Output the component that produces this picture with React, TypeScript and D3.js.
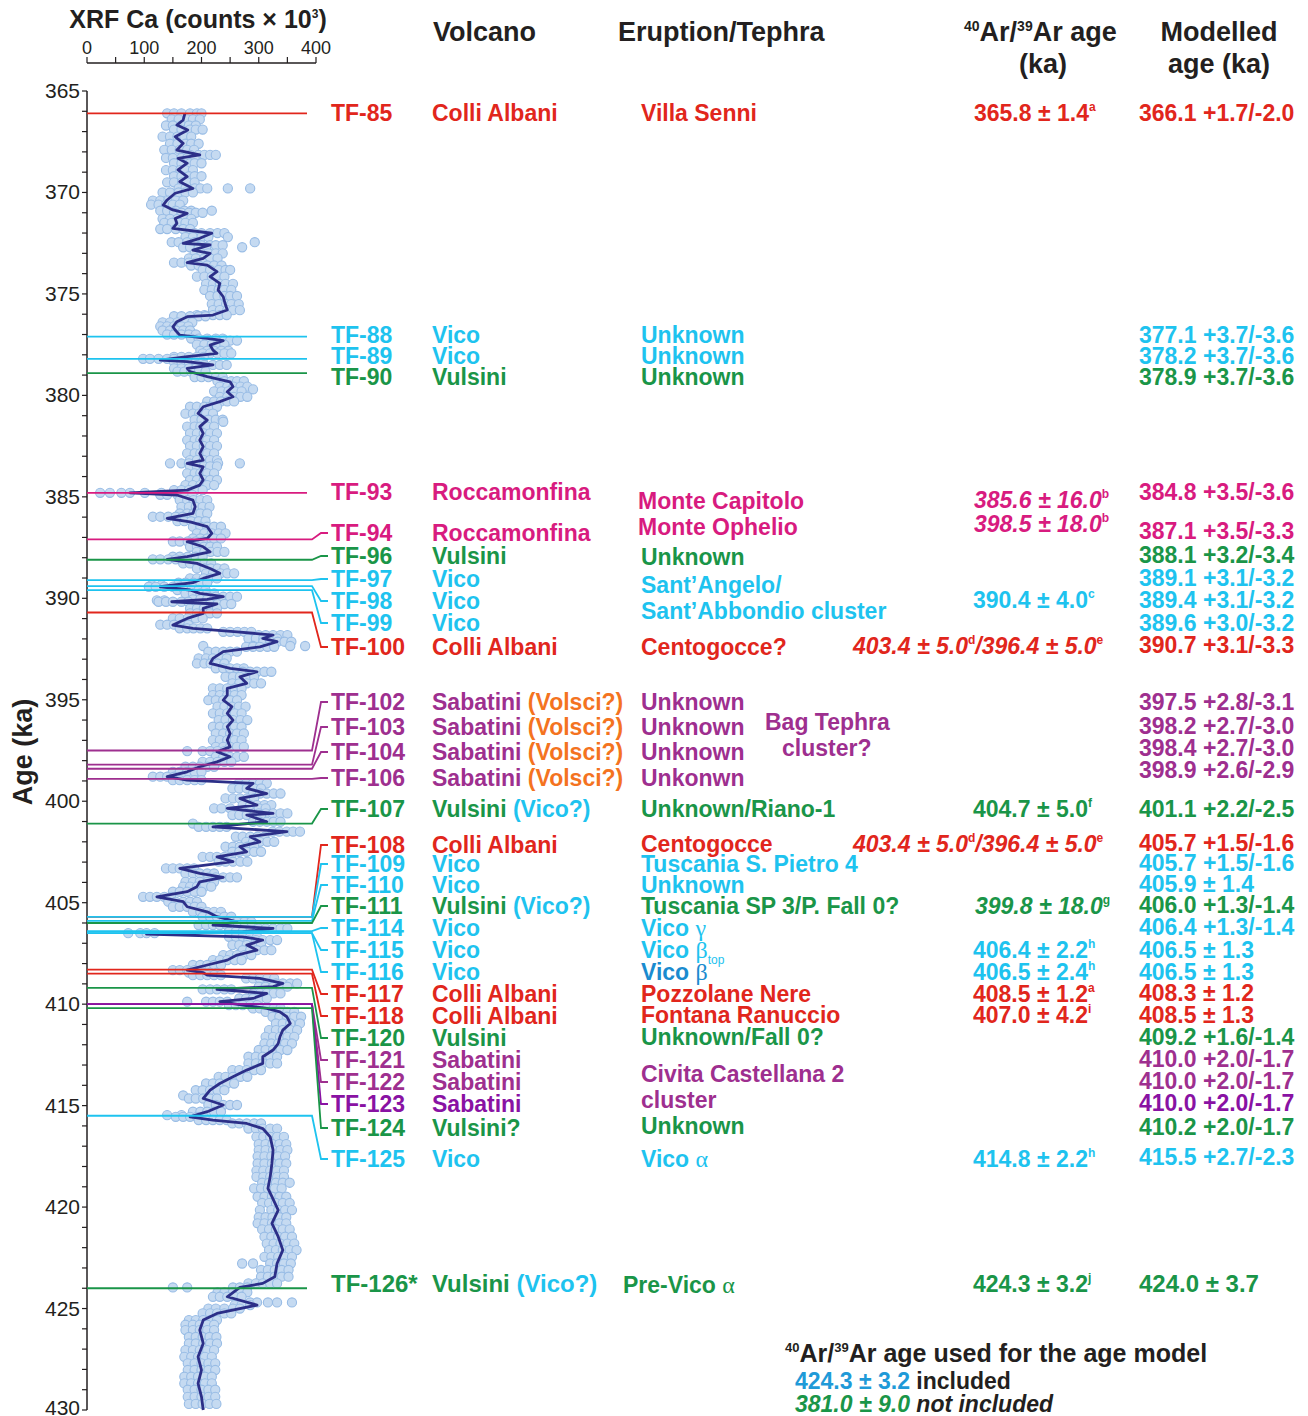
import React from 'react';
import * as d3 from 'd3';

// ---------------- DATA ----------------
// XRF Ca smoothed curve: [age (ka), counts x10^3]
const XRF_LINE: [number, number][] = [
  [366.10,171],[366.43,168],[366.68,157],[366.92,176],[367.25,154],[367.58,168],[367.91,157],[368.15,197],[368.32,159],[368.56,175],
  [368.89,159],[369.22,175],[369.47,162],[369.80,185],[370.04,154],[370.37,140],[370.62,133],[370.86,150],[371.03,175],[371.28,154],
  [371.52,157],[371.77,150],[372.01,218],[372.26,197],[372.51,168],[372.59,215],[372.84,185],[373.00,215],[373.25,203],[373.46,175],
  [373.58,210],[373.90,227],[374.15,215],[374.48,232],[374.81,229],[375.14,238],[375.46,241],[375.79,245],[376.04,220],[376.12,175],
  [376.37,157],[376.62,150],[376.78,154],[377.03,162],[377.19,210],[377.30,238],[377.52,215],[377.77,220],[377.93,227],[378.09,175],
  [378.26,128],[378.34,175],[378.50,220],[378.67,175],[378.83,180],[379.08,210],[379.33,250],[379.57,255],[379.82,245],[380.07,255],
  [380.31,232],[380.56,203],[380.89,194],[381.22,210],[381.54,197],[381.87,203],[382.20,197],[382.53,203],[382.86,197],[383.19,203],
  [383.35,175],[383.52,203],[383.84,197],[384.17,203],[384.42,197],[384.67,175],[384.80,75],[384.91,157],[385.16,185],[385.49,189],
  [385.82,185],[386.06,140],[386.23,180],[386.47,210],[386.80,218],[387.05,210],[387.21,175],[387.46,203],[387.71,215],[387.95,175],
  [388.08,140],[388.28,192],[388.53,215],[388.77,232],[389.02,203],[389.23,185],[389.43,128],[389.59,180],[389.76,197],[389.92,238],
  [390.05,210],[390.17,148],[390.28,227],[390.50,203],[390.74,203],[390.99,175],[391.32,150],[391.48,185],[391.65,262],[391.81,325],
  [391.98,307],[392.14,332],[392.39,302],[392.63,238],[392.96,220],[393.21,215],[393.45,250],[393.62,297],[393.87,267],[394.19,279],
  [394.44,245],[394.77,245],[395.02,238],[395.34,253],[395.67,245],[396.00,255],[396.33,245],[396.66,250],[396.99,245],[397.32,250],
  [397.56,227],[397.81,250],[398.06,227],[398.30,197],[398.55,175],[398.79,140],[398.96,175],[399.12,290],[399.37,279],[399.62,314],
  [399.86,267],[400.19,297],[400.35,245],[400.60,325],[400.68,279],[401.01,314],[401.26,220],[401.50,349],[401.75,285],[402.00,302],
  [402.24,267],[402.49,279],[402.74,227],[402.98,255],[403.31,162],[403.56,197],[403.75,238],[403.97,197],[404.21,192],[404.46,175],
  [404.71,122],[404.95,168],[405.20,175],[405.45,210],[405.69,227],[405.94,262],[406.10,220],[406.27,325],[406.43,272],[406.55,104],
  [406.68,272],[406.84,307],[407.09,279],[407.34,297],[407.58,262],[407.83,245],[408.07,210],[408.32,175],[408.45,203],[408.57,210],
  [408.73,302],[408.98,342],[409.14,325],[409.27,227],[409.47,314],[409.72,290],[409.88,232],[410.05,272],[410.21,314],[410.38,337],
  [410.62,349],[410.95,355],[411.28,342],[411.61,337],[411.94,334],[412.26,325],[412.59,307],[412.92,307],[413.25,279],[413.58,255],
  [413.91,232],[414.24,215],[414.65,203],[414.97,238],[415.30,210],[415.55,180],[415.71,220],[415.88,279],[416.13,307],[416.54,320],
  [417.19,325],[417.85,323],[418.51,320],[419.08,316],[419.49,323],[420.15,334],[420.80,323],[421.46,334],[422.12,342],[422.78,332],
  [423.43,328],[423.76,307],[423.96,267],[424.42,245],[424.83,297],[425.24,227],[425.57,203],[426.06,197],[426.72,203],[427.38,194],
  [428.03,200],[428.69,194],[429.35,200],[430.00,203],
];

// XRF Ca raw measurements: [age (ka), ...counts x10^3 at that depth]
const XRF_POINTS: number[][] = [
  [366.1,140,152,165,180,192,200],[366.4,148,160,175,185,197],[366.7,138,150,165,178,190],[366.9,152,165,180,190,202],
  [367.25,132,145,158,170,182],[367.6,145,158,172,182,195],[367.9,135,148,162,175,187],[368.15,168,180,195,205,215,225],
  [368.3,138,150,165,175,188],[368.56,152,165,180,188,200],[368.9,138,150,163,172,185],[369.2,152,165,178,188,200],
  [369.5,140,152,166,175,188],[369.8,160,172,188,198,210,246,285],[370.0,132,145,160,172,185],[370.4,115,128,142,155,168],
  [370.6,112,125,138,150,162],[370.9,128,140,155,170,182,218],[371.0,152,165,178,190,202],[371.3,132,145,158,170,182],
  [371.5,135,148,162,172,185],[371.8,128,140,155,168,180],[372.0,188,200,215,228,240],[372.2,172,185,200,212,246],
  [372.45,148,160,175,188,293],[372.6,188,200,215,225,237],[372.7,168,180,195,208,271],[373.0,188,200,212,225,237],
  [373.25,178,190,205,215,228],[373.46,152,165,178,190,202],[373.6,182,195,210,222,235],[373.82,202,215,230,242,250],
  [374.15,192,205,218,228,240],[374.5,208,220,232,242,255],[374.8,205,218,230,240,252],[375.1,215,228,240,250,262],
  [375.5,218,230,243,252,265],[375.8,220,232,245,255,267],[376.04,192,205,220,232,244],[376.1,152,165,180,195,207],
  [376.4,132,145,158,172,184],[376.6,128,140,152,165,177],[376.8,132,145,156,168,180],[377.0,140,152,165,178,190],
  [377.2,182,195,210,225,237],[377.3,212,225,240,250,262],[377.5,192,205,218,228,240],[377.8,198,210,222,235,247],
  [377.93,202,215,228,240,252],[378.1,152,165,178,192,204],[378.2,98,110,125,140,152],[378.35,152,165,178,190,202],
  [378.5,192,205,220,232,244],[378.67,152,165,178,190,202],[378.83,158,170,182,195,207],[379.1,188,200,212,225,237],
  [379.3,228,240,252,262,274],[379.57,232,245,256,268,280],[379.7,290],[379.8,222,235,247,258,270],
  [380.07,232,245,256,268,280],[380.3,210,222,234,245,257],[380.56,180,192,205,215,227],[380.9,172,185,196,208,220],
  [381.2,188,200,212,225,237],[381.3,238],[381.54,175,188,198,210,222],[381.87,180,192,204,215,227],
  [382.2,175,188,198,210,222],[382.5,180,192,204,215,227],[382.86,175,188,198,210,222],[383.19,180,192,204,215,227],
  [383.35,145,165,178,229,267],[383.5,180,192,204,215,227],[383.84,175,188,198,210,222],[384.17,180,192,204,215,227],
  [384.42,172,185,198,210,222],[384.67,152,165,178,190,202],[384.8,23,40,60,75,101,130],[384.9,128,140,158,172,184],
  [385.16,162,175,186,198,210],[385.49,165,178,190,202,214],[385.82,162,175,186,198,210],[385.98,115,128,142,155,167],
  [386.2,158,170,182,195,207],[386.47,185,198,210,222,234],[386.8,192,205,218,230,242],[387.05,185,198,210,222,234],
  [387.2,150,162,176,190,202],[387.46,180,192,204,215,227],[387.71,192,205,216,228,240],[387.95,150,162,176,190,202],
  [388.08,115,128,142,155,167],[388.28,168,180,193,205,217],[388.53,192,205,216,228,240],[388.77,208,220,233,245,257],
  [389.02,180,192,204,215,227],[389.23,160,172,186,198,210],[389.35,113,130],[389.43,108,120,135,150,162],
  [389.59,158,170,182,195,207],[389.76,172,185,198,210,222],[389.92,212,225,238,250,262],[390.05,185,198,210,222,234],
  [390.1,122,135],[390.17,125,138,150,165,177],[390.28,202,215,228,240,252],[390.5,180,192,204,215,227],
  [390.74,180,192,204,215,227],[390.99,150,162,176,190,202],[391.3,128,140,152,165,177],[391.48,162,175,186,198,210],
  [391.65,238,250,263,275,287],[391.81,300,312,325,338,350],[391.98,282,295,308,320,332],[392.14,308,320,333,345,357],
  [392.35,203,290,355,381],[392.39,278,290,302,315,327],[392.63,212,225,238,250,262],[392.96,195,208,220,232,244],
  [393.21,192,205,216,228,240],[393.45,225,238,250,262,274],[393.62,272,285,297,310,322],[393.87,242,255,267,280,292],
  [394.19,254,266,279,292,304],[394.44,220,232,245,258,270],[394.77,220,232,245,258,270],[395.02,212,225,238,250,262],
  [395.34,228,240,253,265,277],[395.67,220,232,245,258,270],[396.0,230,242,255,268,280],[396.33,220,232,245,258,270],
  [396.66,225,238,250,262,274],[396.99,220,232,245,258,270],[397.32,225,238,250,262,274],[397.53,175,202,215,228,240],
  [397.81,225,238,250,262,274],[398.06,202,215,228,240,252],[398.3,172,185,197,210,222],[398.55,150,162,175,188,200],
  [398.79,115,128,140,152,164],[398.96,150,162,175,188,200],[399.12,265,278,290,302,314],[399.37,254,266,279,292,304],
  [399.62,290,302,314,326,338],[399.86,242,255,267,280,292],[400.19,272,285,297,310,322],[400.35,222,235,250,300,312],
  [400.6,300,312,325,338,350],[400.68,254,266,279,292,304],[401.01,290,302,314,326,338],[401.1,185],
  [401.26,195,208,220,232,244],[401.5,324,336,349,360,372],[401.75,260,272,285,298,310],[402.0,278,290,302,315,327],
  [402.24,242,255,267,280,292],[402.49,254,266,279,292,304],[402.74,202,215,227,240,252],[402.98,230,242,255,268,280],
  [403.31,138,150,162,175,187],[403.56,172,185,197,210,222],[403.75,212,225,238,250,262],[403.97,172,185,197,210,222],
  [404.21,168,180,192,205,217],[404.46,150,162,175,188,200],[404.71,98,110,122,135,147],[404.95,142,155,168,180,192],
  [405.2,150,162,175,188,200],[405.45,185,198,210,222,234],[405.69,202,215,227,240,252],[405.94,238,250,262,275,287],
  [406.1,195,208,220,232,244],[406.27,300,312,325,338,350],[406.43,248,260,272,285,297],[406.5,72,93,104,118],
  [406.68,248,260,272,285,297],[406.84,282,295,307,320,332],[407.09,254,266,279,292,304],[407.34,272,285,297,310,322],
  [407.58,238,250,262,275,287],[407.83,220,232,245,258,270],[408.07,185,198,210,222,234],[408.32,150,162,175,188,200],
  [408.45,178,190,203,215,227],[408.57,185,198,210,222,234],[408.73,278,290,302,315,327],[408.98,318,330,342,355,367],
  [409.14,300,312,325,338,350],[409.27,202,215,227,240,252],[409.47,290,302,314,326,338],[409.72,266,278,290,302,314],
  [409.88,175,208,220,232,245],[410.05,248,260,272,285,297],[410.21,290,302,314,326,338],[410.38,312,325,337,350,362],
  [410.62,324,336,349,362,374],[410.95,330,342,355,372],[411.28,318,330,342,355,367],[411.61,312,325,337,350,362],
  [411.94,310,322,334,346,358],[412.26,300,312,325,338,350],[412.59,282,295,307,320,332],[412.92,282,295,307,320,332],
  [413.25,254,266,279,292,304],[413.58,230,242,255,268,280],[413.91,208,220,232,245,257],[414.24,190,202,215,228,240],
  [414.5,168],[414.65,178,190,203,215,227],[414.97,212,225,238,250,262],[415.3,185,198,210,222,234],
  [415.47,140,165],[415.55,155,168,180,192,204],[415.71,195,208,220,232,244],[415.88,254,266,279,292,304],
  [416.13,282,295,307,320,332],[416.54,296,308,320,332,344],[416.9,300,312,324,336,348],[417.19,300,312,325,338,350],
  [417.5,298,310,322,334,346],[417.85,298,310,323,336,348],[418.2,296,308,320,332,344],[418.51,296,308,320,332,344],
  [418.8,306,318,330,342,354],[419.08,292,304,316,328,340],[419.49,298,310,323,336,348],[419.8,306,318,330,342,354],
  [420.15,302,322,334,346,358],[420.5,300,312,324,336,348],[420.8,298,310,323,336,348],[421.1,306,318,330,342,354],
  [421.46,310,322,334,346,358],[421.8,314,326,338,350,362],[422.12,318,330,342,354,366],[422.45,310,322,334,346,358],
  [422.78,271,290,320,332,344,356],[423.1,304,316,328,340,352],[423.43,304,316,328,340,352],[423.76,282,295,307,320,332],
  [423.96,150,175,255,267,280],[424.2,228,240,255,268,280],[424.42,220,232,245,258,270],[424.7,285,297,316,332,358],
  [424.83,258,270,285],[425.0,212,225,240,255,267],[425.24,202,215,227,240,252],[425.57,178,190,203,215,227],
  [425.8,172,185,197,210,222],[426.06,172,185,197,210,222],[426.4,178,190,202,214,226],[426.72,178,190,203,215,227],
  [427.05,172,185,197,210,222],[427.38,170,182,194,206,218],[427.7,176,188,200,212,224],[428.03,176,188,200,212,224],
  [428.36,170,182,194,206,218],[428.69,170,182,194,206,218],[429.0,176,188,200,212,224],[429.35,176,188,200,212,224],
  [429.7,178,190,202,214,226],
];

const X_TICKS = [0, 100, 200, 300, 400];
const Y_TICKS = [365, 370, 375, 380, 385, 390, 395, 400, 405, 410, 415, 420, 425, 430];

// Tephra table
const TEPHRA = ['TF-85','TF-88','TF-89','TF-90','TF-93','TF-94','TF-96','TF-97','TF-98','TF-99','TF-100','TF-102','TF-103','TF-104','TF-106','TF-107','TF-108','TF-109','TF-110','TF-111','TF-114','TF-115','TF-116','TF-117','TF-118','TF-120','TF-121','TF-122','TF-123','TF-124','TF-125','TF-126*'];
const VOLCANO = ['Colli Albani','Vico','Vico','Vulsini','Roccamonfina','Roccamonfina','Vulsini','Vico','Vico','Vico','Colli Albani','Sabatini','Sabatini','Sabatini','Sabatini','Vulsini','Colli Albani','Vico','Vico','Vulsini','Vico','Vico','Vico','Colli Albani','Colli Albani','Vulsini','Sabatini','Sabatini','Sabatini','Vulsini?','Vico','Vulsini'];
const VOLCANO_ALT = ['','','','','','','','','','','','(Volsci?)','(Volsci?)','(Volsci?)','(Volsci?)','(Vico?)','','','','(Vico?)','','','','','','','','','','','','(Vico?)'];
const GROUP = ['CA','VC','VC','VS','RC','RC','VS','VC','VC','VC','CA','SB','SB','SB','SB','VS','CA','VC','VC','VS','VC','VC','VC','CA','CA','VS','SB','SB','SB2','VS','VC','VS'];
const MODEL_AGE = [366.1,377.1,378.2,378.9,384.8,387.1,388.1,389.1,389.4,389.6,390.7,397.5,398.2,398.4,398.9,401.1,405.7,405.7,405.9,406.0,406.4,406.5,406.5,408.3,408.5,409.2,410.0,410.0,410.0,410.2,415.5,424.0];
const MODEL_ERR = ['+1.7/-2.0','+3.7/-3.6','+3.7/-3.6','+3.7/-3.6','+3.5/-3.6','+3.5/-3.3','+3.2/-3.4','+3.1/-3.2','+3.1/-3.2','+3.0/-3.2','+3.1/-3.3','+2.8/-3.1','+2.7/-3.0','+2.7/-3.0','+2.6/-2.9','+2.2/-2.5','+1.5/-1.6','+1.5/-1.6','± 1.4','+1.3/-1.4','+1.3/-1.4','± 1.3','± 1.3','± 1.2','± 1.3','+1.6/-1.4','+2.0/-1.7','+2.0/-1.7','+2.0/-1.7','+2.0/-1.7','+2.7/-2.3','± 3.7'];
const DIRECT_LINE = ['TF-85','TF-88','TF-89','TF-90','TF-93','TF-126*'];

// Eruption / tephra names, greek letter, subscript, colour group
const ERUPTION_TEXT = ['Villa Senni','Unknown','Unknown','Unknown','Monte Capitolo','Monte Ophelio','Unknown','Sant\u2019Angelo/','Sant\u2019Abbondio cluster','Centogocce?','Unknown','Unknown','Unknown','Unkonwn','Bag Tephra','cluster?','Unknown/Riano-1','Centogocce','Tuscania S. Pietro 4','Unknown','Tuscania SP 3/P. Fall 0?','Vico ','Vico ','Vico ','Pozzolane Nere','Fontana Ranuccio','Unknown/Fall 0?','Civita Castellana 2','cluster','Unknown','Vico ','Pre-Vico '];
const ERUPTION_GREEK = ['','','','','','','','','','','','','','','','','','','','','','\u03b3','\u03b2','\u03b2','','','','','','','\u03b1','\u03b1'];
const ERUPTION_SUB = ['','','','','','','','','','','','','','','','','','','','','','','top','','','','','','','','',''];
const ERUPTION_GROUP = ['CA','VC','VC','VS','RC','RC','VS','VC','VC','CA','SB','SB','SB','SB','SB','SB','VS','CA','VC','VC','VS','VC','VC','VB','CA','CA','VS','SB','SB','VS','VC','VS'];

// 40Ar/39Ar ages
const AR_AGE = ['365.8 ± 1.4','385.6 ± 16.0','398.5 ± 18.0','390.4 ± 4.0','403.4 ± 5.0','404.7 ± 5.0','403.4 ± 5.0','399.8 ± 18.0','406.4 ± 2.2','406.5 ± 2.4','408.5 ± 1.2','407.0 ± 4.2','414.8 ± 2.2','424.3 ± 3.2'];
const AR_REF = ['a','b','b','c','d','f','d','g','h','h','a','i','h','j'];
const AR_AGE2 = ['','','','','/396.4 ± 5.0','','/396.4 ± 5.0','','','','','','',''];
const AR_REF2 = ['','','','','e','','e','','','','','','',''];
const AR_GROUP = ['CA','RC','RC','VC','CA','VS','CA','VS','VC','VC','CA','CA','VC','VS'];
const AR_ITALIC = [false,true,true,false,true,false,true,true,false,false,false,false,false,false];

// ---------------- LAYOUT / STYLE ----------------
const W = 1308, H = 1416;
const FONT = "'Liberation Sans', Arial, Helvetica, sans-serif";
const SERIF = "'Liberation Serif', 'DejaVu Serif', 'Times New Roman', serif";
const INK = '#231f20';
const COLORS: Record<string, string> = {
  CA: '#e1261c', VC: '#1ec3ef', VS: '#1a9548', RC: '#d81b7f', SB: '#9e2f8f', SB2: '#8912a3', VB: '#1a8bcf', OR: '#f4731f', BL: '#1f9ad8',
};
const LABEL_Y = [113,335,356,377,492,533,556,579,601,623,647,702,727,752,778,809,845,864,885,906,928,950,972,994,1016,1038,1060,1082,1104,1128,1159,1284];
const MODEL_Y = [113,335,356,377,492,531,555,578,600,623,645,702,726,748,770,809,843,863,884,905,927,950,972,993,1015,1037,1059,1081,1103,1127,1157,1284];
const ERUPTION_POS: [number, number][] = [
  [641,113],[641,335],[641,356],[641,377],[638,501],[638,527],[641,557],[641,585],[641,611],[641,647],
  [641,702],[641,727],[641,752],[641,778],[765,722],[782,748],[641,809],[641,844],[641,864],[641,885],
  [641,906],[641,928],[641,950],[641,972],[641,994],[641,1015],[641,1037],[641,1074],[641,1100],[641,1126],
  [641,1159],[623,1285],
];
const AR_POS: [number, number][] = [
  [974,113],[974,500],[974,524],[973,600],[853,646],[973,809],[853,844],[975,906],[973,950],[973,972],[973,994],[973,1015],[973,1159],[973,1284],
];
const ROW_FS = 23;
const BASE = 8; // centre-to-baseline offset for row text

export default function App() {
  const y = d3.scaleLinear().domain([365, 430]).range([91, 1410]);
  const x = d3.scaleLinear().domain([0, 400]).range([87, 316]);
  const line = d3.line<[number, number]>().x(d => x(d[1])).y(d => y(d[0])).curve(d3.curveLinear);
  const minorY = d3.range(365, 431, 1);
  const minorX = d3.range(0, 401, 50);
  const points = XRF_POINTS.flatMap(row => row.slice(1).map(v => [row[0], v]));

  return (
    <svg width={W} height={H} viewBox={`0 0 ${W} ${H}`} style={{ position: 'absolute', left: 0, top: 0, background: '#fff' }} fontFamily={FONT}>
      <rect x={0} y={0} width={W} height={H} fill="#fff" />

      {/* X axis (top) */}
      <text x={198} y={28} textAnchor="middle" fontSize={25} fontWeight="bold" fill={INK}>
        XRF Ca (counts × 10<tspan fontSize={12} dy={-10}>3</tspan><tspan dy={10}>)</tspan>
      </text>
      <line x1={x(0)} x2={x(400)} y1={63} y2={63} stroke={INK} strokeWidth={1.3} />
      {minorX.map(v => (
        <line key={'xt' + v} x1={x(v)} x2={x(v)} y1={63} y2={57} stroke={INK} strokeWidth={1.2} />
      ))}
      {X_TICKS.map(v => (
        <text key={'xl' + v} x={x(v)} y={54} textAnchor="middle" fontSize={18} fill={INK}>{v}</text>
      ))}

      {/* Y axis */}
      <line x1={87} x2={87} y1={y(365)} y2={y(430)} stroke={INK} strokeWidth={1.5} />
      {minorY.map(v => (
        <line key={'yt' + v} x1={82} x2={87} y1={y(v)} y2={y(v)} stroke={INK} strokeWidth={1.2} />
      ))}
      {Y_TICKS.map(v => (
        <text key={'yl' + v} x={80} y={Math.min(y(v) + 7, 1415)} textAnchor="end" fontSize={21} fill={INK}>{v}</text>
      ))}
      <text transform="translate(32,752) rotate(-90)" textAnchor="middle" fontSize={27} fontWeight="bold" fill={INK}>Age (ka)</text>

      {/* XRF scatter + curve */}
      <g>
        {points.map((p, i) => (
          <circle key={'p' + i} cx={x(p[1])} cy={y(p[0])} r={4.6} fill="#c5daf1" stroke="#98bce5" strokeWidth={1.1} />
        ))}
      </g>
      <path d={line(XRF_LINE) || ''} fill="none" stroke="#2c2f88" strokeWidth={2.8} strokeLinejoin="round" />

      {/* tephra lines */}
      {TEPHRA.map((t, i) => {
        const y0 = y(MODEL_AGE[i]);
        const ly = LABEL_Y[i];
        const d = DIRECT_LINE.includes(t)
          ? `M87,${y0}H307`
          : `M87,${y0}H312L321,${ly}H328`;
        return <path key={'tl' + t} d={d} fill="none" stroke={COLORS[GROUP[i]]} strokeWidth={1.8} />;
      })}

      {/* headers */}
      <g fontWeight="bold" fill={INK} fontSize={27}>
        <text x={433} y={41}>Volcano</text>
        <text x={618} y={41}>Eruption/Tephra</text>
        <text x={964} y={41}>
          <tspan fontSize={14} dy={-10}>40</tspan><tspan dy={10}>Ar/</tspan><tspan fontSize={14} dy={-10}>39</tspan><tspan dy={10}>Ar age</tspan>
        </text>
        <text x={1043} y={73} textAnchor="middle">(ka)</text>
        <text x={1219} y={41} textAnchor="middle">Modelled</text>
        <text x={1219} y={73} textAnchor="middle">age (ka)</text>
      </g>

      {/* table rows */}
      <g fontWeight="bold" fontSize={ROW_FS}>
        {TEPHRA.map((t, i) => {
          const c = COLORS[GROUP[i]];
          const fs = t === 'TF-126*' ? 24 : ROW_FS;
          return (
            <g key={'row' + t}>
              <text x={331} y={LABEL_Y[i] + BASE} fill={c} fontSize={fs}>{t}</text>
              <text x={432} y={LABEL_Y[i] + BASE} fill={c} fontSize={fs}>
                {VOLCANO[i]}
                {VOLCANO_ALT[i] && (
                  <tspan fill={VOLCANO_ALT[i] === '(Volsci?)' ? COLORS.OR : COLORS.VC}>{' ' + VOLCANO_ALT[i]}</tspan>
                )}
              </text>
              <text x={1139} y={MODEL_Y[i] + BASE} fill={c} fontSize={fs}>
                {MODEL_AGE[i].toFixed(1) + ' ' + MODEL_ERR[i]}
              </text>
            </g>
          );
        })}

        {ERUPTION_TEXT.map((t, i) => (
          <text key={'er' + i} x={ERUPTION_POS[i][0]} y={ERUPTION_POS[i][1] + BASE} fill={COLORS[ERUPTION_GROUP[i]]}>
            {t}
            {ERUPTION_GREEK[i] && (
              <tspan fontFamily={SERIF} fontWeight="normal" fontSize={24}>{ERUPTION_GREEK[i]}</tspan>
            )}
            {ERUPTION_SUB[i] && (
              <tspan fontWeight="normal" fontSize={12} dy={6}>{ERUPTION_SUB[i]}</tspan>
            )}
          </text>
        ))}

        {AR_AGE.map((t, i) => (
          <text key={'ar' + i} x={AR_POS[i][0]} y={AR_POS[i][1] + BASE} fill={COLORS[AR_GROUP[i]]} fontStyle={AR_ITALIC[i] ? 'italic' : 'normal'}>
            {t}
            <tspan fontSize={12} dy={-10} fontStyle="normal">{AR_REF[i]}</tspan>
            {AR_AGE2[i] && <tspan dy={10}>{AR_AGE2[i]}</tspan>}
            {AR_REF2[i] && <tspan fontSize={12} dy={-10} fontStyle="normal">{AR_REF2[i]}</tspan>}
          </text>
        ))}
      </g>

      {/* legend */}
      <g fontWeight="bold" fill={INK}>
        <text x={785} y={1362} fontSize={25}>
          <tspan fontSize={13} dy={-10}>40</tspan><tspan dy={10}>Ar/</tspan><tspan fontSize={13} dy={-10}>39</tspan><tspan dy={10}>Ar age used for the age model</tspan>
        </text>
        <text x={795} y={1389} fontSize={23}>
          <tspan fill={COLORS.BL}>424.3 ± 3.2</tspan> included
        </text>
        <text x={795} y={1412} fontSize={23} fontStyle="italic">
          <tspan fill={COLORS.VS}>381.0 ± 9.0</tspan> not included
        </text>
      </g>
    </svg>
  );
}
